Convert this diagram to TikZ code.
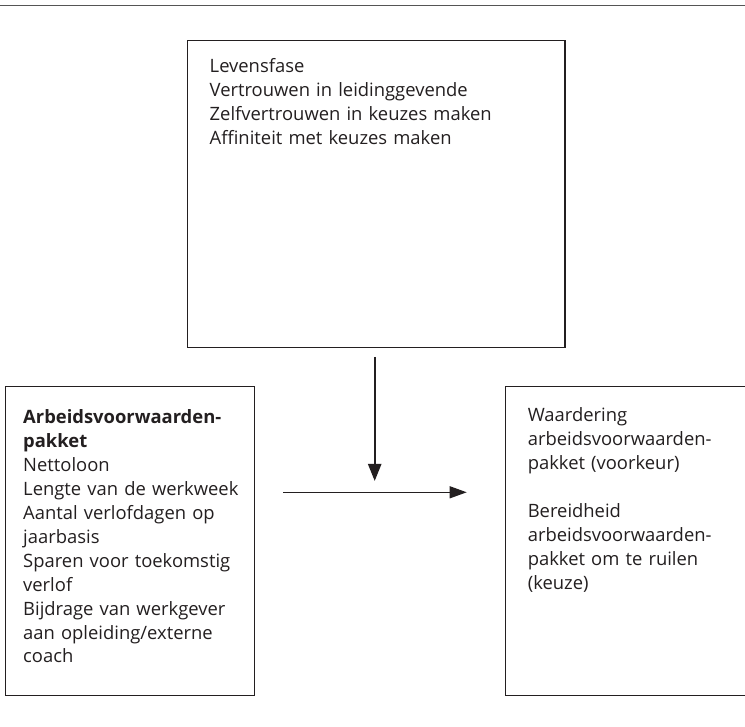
\documentclass[tikz,border=0pt]{standalone}
\usepackage{fontspec}
\setmainfont{Open Sans}
\usetikzlibrary{arrows.meta}
\definecolor{ink}{HTML}{231F20}
\definecolor{rulegray}{HTML}{555555}
\begin{document}
\begin{tikzpicture}[x=1pt,y=-1pt,
  boxnode/.style={draw=ink, line width=1.2pt, inner sep=0pt, outer sep=0pt},
  openbox/.style={inner sep=0pt, outer sep=0pt},
  txt/.style={anchor=base west, inner sep=0pt, outer sep=0pt, text=ink,
              text width=340pt, align=left,
              font=\fontsize{18.4pt}{23.9pt}\selectfont},
  flow/.style={draw=ink, line width=1.2pt, -{Triangle[length=17pt,width=12pt]}},
  flowbold/.style={draw=ink, line width=2.3pt, -{Triangle[length=17pt,width=13pt]}}
]
\useasboundingbox (0,0) rectangle (745,727);
\fill[white] (0,0) rectangle (745,727);

% top rule
\draw[rulegray, line width=1.3pt] (0,5.4) -- (745,5.4);

% top box
\node[boxnode, minimum width=377.7pt, minimum height=306.6pt] (topbox) at (376.15,194) {};
\node[txt] (toptext) at (209.7,73) {Levensfase\\Vertrouwen in leidinggevende\\Zelfvertrouwen in keuzes maken\\Affiniteit met keuzes maken};

% left box
\node[boxnode, minimum width=249.2pt, minimum height=309pt] (leftbox) at (129.7,541.2) {};
\node[txt] (lefttext) at (23.2,424) {\textbf{Arbeidsvoorwaarden-}\\\textbf{pakket}\\Nettoloon\\Lengte van de werkweek\\Aantal verlofdagen op\\jaarbasis\\Sparen voor toekomstig\\verlof\\Bijdrage van werkgever\\aan opleiding/externe\\coach};

% right box (open at the right edge)
\node[openbox, minimum width=239.7pt, minimum height=309pt] (rightbox) at (625.15,541.2) {};
\draw[ink, line width=1.2pt] (rightbox.north east) -- (rightbox.north west) -- (rightbox.south west) -- (rightbox.south east);
\node[txt] (righttext) at (527.8,422) {Waardering\\arbeidsvoorwaarden-\\pakket (voorkeur)\\[23.9pt]Bereidheid\\arbeidsvoorwaarden-\\pakket om te ruilen\\(keuze)};

% arrows
\coordinate (v1) at (374.7,357);
\coordinate (v2) at (374.7,481);
\coordinate (h1) at (283.3,492.3);
\coordinate (h2) at (466.7,492.3);
\draw[flowbold] (v1) -- (v2);
\draw[flow] (h1) -- (h2);
\end{tikzpicture}
\end{document}
